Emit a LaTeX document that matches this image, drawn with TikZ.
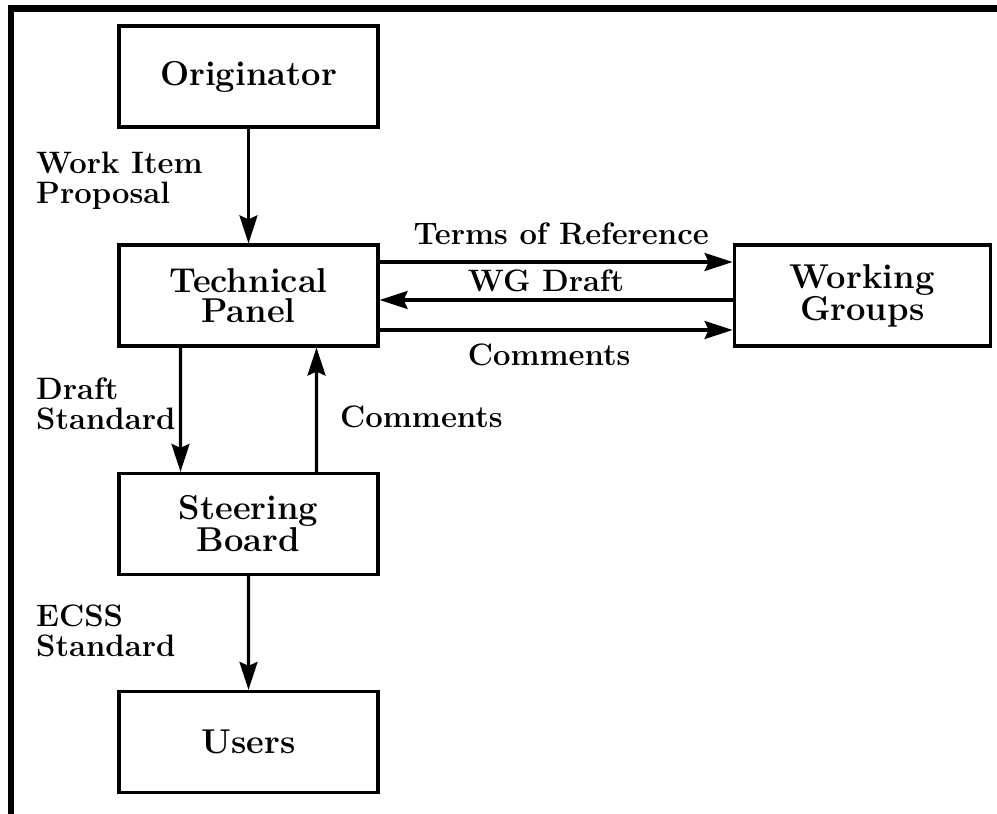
\documentclass[tikz,border=0pt]{standalone}
\usepackage{fontspec}
\usetikzlibrary{arrows.meta,positioning}

\begin{document}
\begin{tikzpicture}[x=1pt, y=1pt,
    level 1/.style={level distance=219pt},
    level 2/.style={level distance=228.5pt},
    level 3/.style={level distance=218pt},
    edge from parent/.style={draw, line width=3.2pt, -{Stealth[length=28pt, width=18pt, inset=4pt]}},
    box/.style={rectangle, draw, line width=3.2pt, minimum width=259pt, minimum height=101pt,
      align=center, font=\fontsize{34.5}{30}\selectfont\bfseries},
    lbl/.style={inner sep=0pt, align=left, font=\fontsize{31}{30}\selectfont\bfseries},
    flow/.style={line width=3.2pt, -{Stealth[length=28pt, width=18pt, inset=4pt]}}
    ]
    \useasboundingbox (0,0) rectangle (997,814);
    \draw[line width=6.5pt] (11,0) -- (11,805.5) -- (997,805.5);

    \node[box] (orig) at (248.5,737.5) {Originator}
      child {node[box] (tp) {Technical\\Panel}
        child {node[box] (sb) {Steering\\Board}
          child {node[box] (users) {Users}}
          edge from parent[draw=none]
        }
      };
    \node[box, minimum width=256pt, right=353pt of tp] (wg) {Working\\Groups};

    \draw[flow] ([yshift=33.5pt]tp.east) -- ([yshift=33.5pt]wg.west)
      node[lbl, midway, above=16pt, xshift=5pt] (tor) {Terms of Reference};
    \draw[flow] ([yshift=-4.5pt]wg.west) -- ([yshift=-4.5pt]tp.east)
      node[lbl, midway, above=7pt, xshift=-10pt] (wgd) {WG Draft};
    \draw[flow] ([yshift=-34.5pt]tp.east) -- ([yshift=-34.5pt]wg.west)
      node[lbl, midway, below=12pt, xshift=-7pt] (cmtwg) {Comments};
    \draw[flow] ([xshift=-68pt]tp.south) -- ([xshift=-68pt]sb.north);
    \draw[flow] ([xshift=68pt]sb.north) -- ([xshift=68pt]tp.south);

    \node[lbl, anchor=north west] (wip) at (36,662) {Work Item\\Proposal};
    \node[lbl, anchor=north west] (ds) at (36,436) {Draft\\Standard};
    \node[lbl, anchor=base west] (cmtsb) at (340,386) {Comments};
    \node[lbl, anchor=north west] (es) at (36,209) {ECSS\\Standard};
  \end{tikzpicture}
\end{document}
